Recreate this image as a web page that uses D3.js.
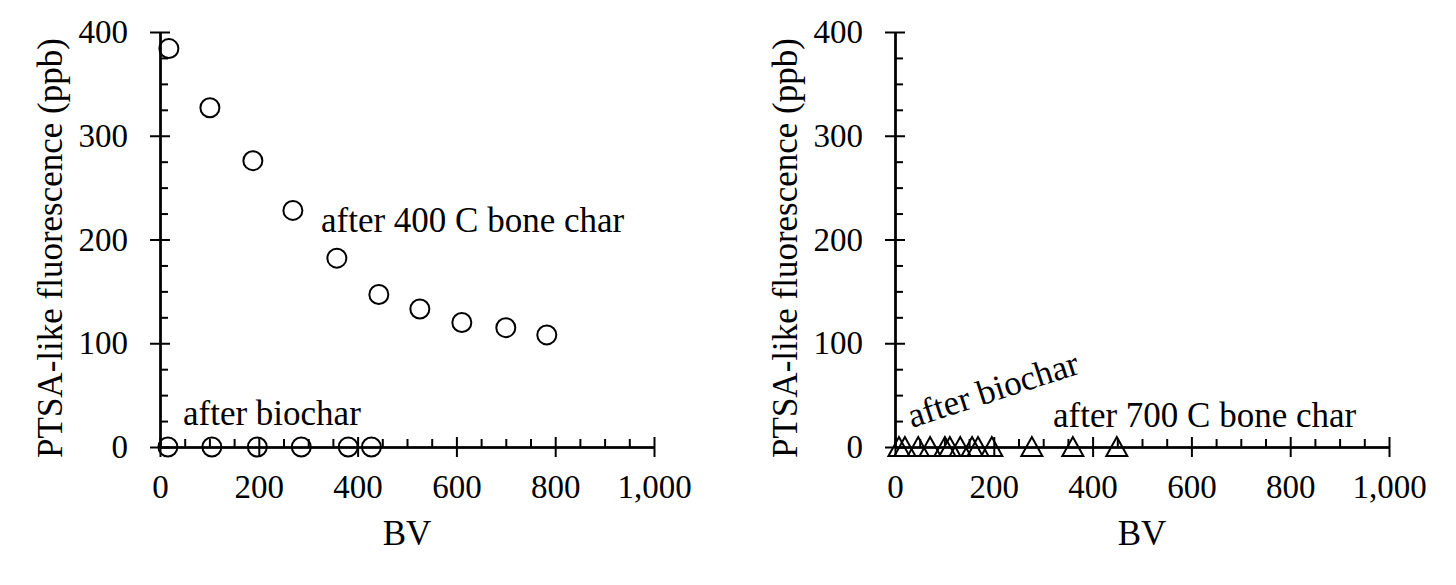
<!DOCTYPE html>
<html><head><meta charset="utf-8">
<script src="https://cdn.jsdelivr.net/npm/d3@7"></script>
<style>
html,body{margin:0;padding:0;background:#fff;}
svg{display:block;}
text{font-family:"Liberation Serif","Times New Roman",serif;fill:#000;}
</style></head>
<body>
<svg id="chart" width="1456" height="585"></svg>
<script>
// ---------- data ----------
const bv400 = [18, 101, 188, 269, 358, 443, 526, 611, 700, 783];
const ptsa400 = [384, 327, 276, 228, 182, 147, 133, 120, 115, 108];
const bvBiocharL = [16, 105, 197, 286, 381, 428];
const ptsaBiocharL = [0, 0, 0, 0, 0, 0];
const bvBiocharR = [8, 47, 71, 132, 156, 168];
const ptsaBiocharR = [0, 0, 0, 0, 0, 0];
const bv700 = [20, 101, 111, 196, 277, 360, 449];
const ptsa700 = [0, 0, 0, 0, 0, 0, 0];
const xMajor = [0, 200, 400, 600, 800, 1000];
const yMajor = [0, 100, 200, 300, 400];
const xTitle = "BV";
const yTitle = "PTSA-like fluorescence (ppb)";

const svg = d3.select("#chart");
const fmt = d3.format(",");

function panel(ox, opts) {
  const x = d3.scaleLinear().domain([0, 1000]).range([ox, ox + 494]);
  const y = d3.scaleLinear().domain([0, 400]).range([447, 32]);
  const g = svg.append("g");
  const xMinor = d3.range(0, 1001, 50).filter(v => v % 200 !== 0);
  const yMinor = d3.range(0, 401, 25).filter(v => v % 100 !== 0);

  // x axis: labels + downward major ticks
  const xa = g.append("g").attr("transform", `translate(0,${y(0)})`)
    .call(d3.axisBottom(x).tickValues(xMajor).tickFormat(fmt).tickSize(10).tickSizeOuter(0).tickPadding(18));
  // upward major
  g.append("g").attr("transform", `translate(0,${y(0)})`)
    .call(d3.axisTop(x).tickValues(xMajor).tickFormat("").tickSize(10).tickSizeOuter(0));
  // upward minor
  g.append("g").attr("transform", `translate(0,${y(0)})`)
    .call(d3.axisTop(x).tickValues(xMinor).tickFormat("").tickSize(8).tickSizeOuter(0));

  // y axis
  g.append("g").attr("transform", `translate(${x(0)},0)`)
    .call(d3.axisLeft(y).tickValues(yMajor).tickSize(10).tickSizeOuter(0).tickPadding(22));
  g.append("g").attr("transform", `translate(${x(0)},0)`)
    .call(d3.axisRight(y).tickValues(yMajor).tickFormat("").tickSize(10).tickSizeOuter(0));
  g.append("g").attr("transform", `translate(${x(0)},0)`)
    .call(d3.axisRight(y).tickValues(yMinor).tickFormat("").tickSize(8).tickSizeOuter(0));

  g.selectAll(".domain").attr("stroke", "#000").attr("stroke-width", 2);
  g.selectAll(".tick line").attr("stroke", "#000").attr("stroke-width", 2);
  g.selectAll(".tick text").attr("font-size", 33).attr("font-family", "Liberation Serif").attr("fill", "#000");

  // titles
  g.append("text").attr("x", ox + 247).attr("y", 545).attr("text-anchor", "middle")
    .attr("font-size", 35).text(xTitle);
  g.append("text").attr("transform", `translate(${ox - 98},248) rotate(-90)`)
    .attr("text-anchor", "middle").attr("font-size", 35).text(yTitle);

  opts(g, x, y);
}

const tri = "M0,-10L10.5,9L-10.5,9Z";

panel(160, (g, x, y) => {
  g.selectAll(".c400").data(bv400).join("circle")
    .attr("cx", d => x(d)).attr("cy", (d, i) => y(ptsa400[i])).attr("r", 9.5)
    .attr("fill", "none").attr("stroke", "#000").attr("stroke-width", 2);
  g.selectAll(".cbio").data(bvBiocharL).join("circle")
    .attr("cx", d => x(d)).attr("cy", (d, i) => y(ptsaBiocharL[i])).attr("r", 9.5)
    .attr("fill", "none").attr("stroke", "#000").attr("stroke-width", 2);
  g.append("text").attr("x", 321).attr("y", 232).attr("font-size", 35).text("after 400 C bone char");
  g.append("text").attr("x", 183).attr("y", 425).attr("font-size", 35).text("after biochar");
});

panel(895, (g, x, y) => {
  g.selectAll(".tbio").data(bvBiocharR).join("path")
    .attr("transform", (d, i) => `translate(${x(d)},${y(ptsaBiocharR[i])})`).attr("d", tri)
    .attr("fill", "none").attr("stroke", "#000").attr("stroke-width", 2);
  g.selectAll(".t700").data(bv700).join("path")
    .attr("transform", (d, i) => `translate(${x(d)},${y(ptsa700[i])})`).attr("d", tri)
    .attr("fill", "none").attr("stroke", "#000").attr("stroke-width", 2);
  g.append("text").attr("transform", "translate(912,428) rotate(-18)").attr("font-size", 35).text("after biochar");
  g.append("text").attr("x", 1053).attr("y", 427).attr("font-size", 35).text("after 700 C bone char");
});
</script>
</body></html>
